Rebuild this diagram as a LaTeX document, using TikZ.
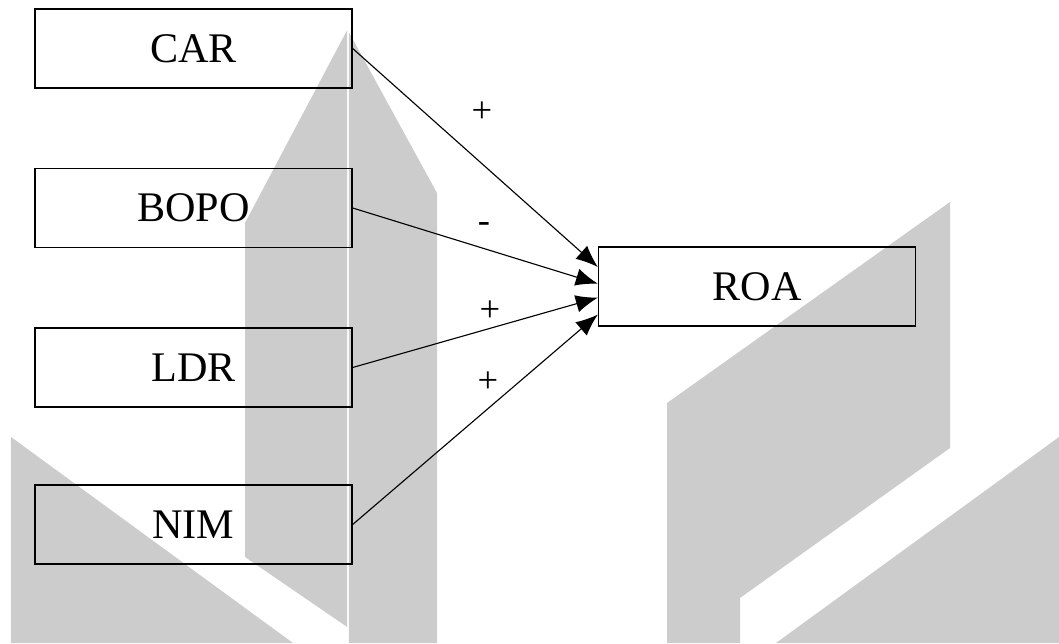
\documentclass[tikz,border=0pt]{standalone}
\usepackage{fontspec}
\setmainfont{Liberation Serif}
\usetikzlibrary{arrows.meta}

\begin{document}
\begin{tikzpicture}[
  box/.style={draw,line width=0.95pt,inner sep=0pt,minimum width=7.925cm,minimum height=1.975cm,font=\fontsize{30}{36}\selectfont},
  sign/.style={inner sep=0pt,font=\fontsize{26}{30}\selectfont},
  link/.style={line width=0.8pt,-{Latex[length=5.5mm,width=4.4mm]}},
  wmark/.style={fill=black!20}]
  \useasboundingbox (0,0) rectangle (26.475,16.075);
  % background marks
  \path[wmark] (8.68,15.325)--(6.125,10.5)--(6.125,2.15)--(8.68,0.4)--cycle;
  \path[wmark] (8.72,15.275)--(10.925,11.25)--(10.925,0)--(8.72,0)--cycle;
  \path[wmark] (0.275,5.15)--(7.325,0)--(0.275,0)--cycle;
  \path[wmark] (16.675,6)--(23.75,11.025)--(23.75,4.875)--(18.5,1.125)--(18.5,0)--(16.675,0)--cycle;
  \path[wmark] (26.475,5.15)--(19.4,0)--(26.475,0)--cycle;

  \node[box] (car) at (4.8375,14.8625) {CAR};
  \node[box] (bopo) at (4.8375,10.875) {BOPO};
  \node[box] (ldr) at (4.8375,6.8875) {LDR};
  \node[box] (nim) at (4.8375,2.9625) {NIM};
  \node[box] (roa) at (18.925,8.9125) {ROA};

  \draw[link] (car.east)--(roa.173);
  \draw[link] (bopo.east)--(roa.179);
  \draw[link] (ldr.east)--(roa.184);
  \draw[link] (nim.east)--(roa.190);

  \node[sign] (scar) at (12.05,13.275) {+};
  \node[sign] (sbopo) at (12.1,10.375) {-};
  \node[sign] (sldr) at (12.25,8.3) {+};
  \node[sign] (snim) at (12.2,6.525) {+};
\end{tikzpicture}
\end{document}
